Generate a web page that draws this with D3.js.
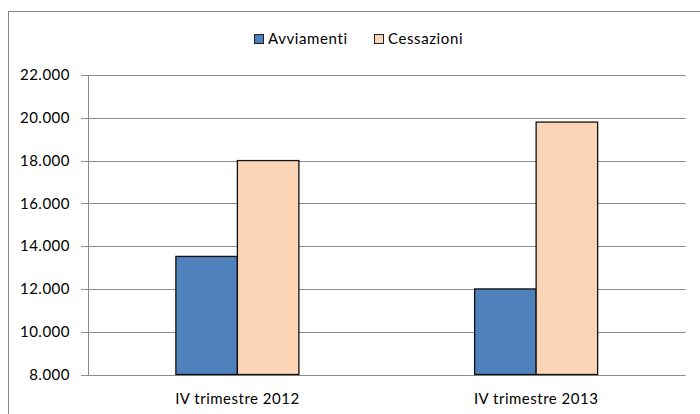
<!DOCTYPE html>
<html>
<head>
<meta charset="utf-8">
<script src="https://cdn.jsdelivr.net/npm/d3@7"></script>
<style>
  body { margin: 0; background: #fff; }
  svg { display: block; font-family: Lato, "Open Sans", sans-serif; }
</style>
</head>
<body>
<div id="chart"></div>
<script>
const categories = ["IV trimestre 2012", "IV trimestre 2013"]
const seriesNames = ["Avviamenti", "Cessazioni"]
const avviamenti = [13520, 12000]
const cessazioni = [18000, 19800]
const yTicks = [8000, 10000, 12000, 14000, 16000, 18000, 20000, 22000]
const colors = ["#4f81bd", "#fbd5b5"]

const svgWidth = 700
const svgHeight = 414
const margin = {top: 75, right: 14.5, bottom: 39.5, left: 88}
const width = svgWidth - margin.left - margin.right
const height = svgHeight - margin.top - margin.bottom

const svg = d3.select('#chart')
    .append('svg')
    .attr('width', svgWidth)
    .attr('height', svgHeight)

// outer chart frame (cut off at right and bottom)
svg.append('rect')
    .attr('x', 8.5)
    .attr('y', 11.5)
    .attr('width', 720)
    .attr('height', 440)
    .attr('fill', 'none')
    .attr('stroke', '#868686')

const chart = svg.append('g')
    .attr('transform', `translate(${margin.left},${margin.top})`)

const xScale = d3.scaleBand()
    .domain(categories)
    .range([0, width])

const inner = d3.scaleBand()
    .domain(seriesNames)
    .range([0, 123])

const yScale = d3.scaleLinear()
    .domain([8000, 22000])
    .range([height, 0])

const fmt = d => d3.format(',')(d).replace(/,/g, '.')

// gridlines
chart.append('g')
    .selectAll('line')
    .data(yTicks)
    .join('line')
    .attr('x1', -7)
    .attr('x2', width)
    .attr('y1', d => Math.round(yScale(d)) + 0.5)
    .attr('y2', d => Math.round(yScale(d)) + 0.5)
    .attr('stroke', '#8c8c8c')
    .attr('stroke-width', 1)

// y axis labels
let yAxis = chart.append('g')
    .call(d3.axisLeft(yScale).tickValues(yTicks).tickFormat(fmt).tickSize(0).tickPadding(18))
yAxis.select('.domain').remove()
yAxis.selectAll('text')
    .attr('font-size', 15)
    .attr('letter-spacing', 0.5)
    .attr('font-family', 'Lato, sans-serif')
    .attr('fill', '#000')

chart.append('line')
    .attr('x1', 0.5).attr('x2', 0.5)
    .attr('y1', Math.round(yScale(22000)))
    .attr('y2', Math.round(yScale(8000)) + 0.5)
    .attr('stroke', '#8c8c8c')

// bars
const rows = categories.map((c, i) => ({cat: c, values: [avviamenti[i], cessazioni[i]]}))

chart.append('g')
    .selectAll('g')
    .data(rows)
    .join('g')
    .attr('transform', d => `translate(${xScale(d.cat) + (xScale.bandwidth() - 123) / 2},0)`)
    .selectAll('rect')
    .data(d => d.values.map((v, j) => ({key: seriesNames[j], value: v})))
    .join('rect')
    .attr('x', d => inner(d.key))
    .attr('y', d => yScale(d.value))
    .attr('width', inner.bandwidth())
    .attr('height', d => yScale(8000) - yScale(d.value))
    .attr('fill', d => colors[seriesNames.indexOf(d.key)])
    .attr('stroke', '#111')
    .attr('stroke-width', 1.3)

// category labels
chart.append('g')
    .selectAll('text')
    .data(categories)
    .join('text')
    .attr('x', d => xScale(d) + xScale.bandwidth() / 2)
    .attr('y', height + 29)
    .attr('text-anchor', 'middle')
    .attr('font-size', 15)
    .attr('letter-spacing', 0.5)
    .attr('fill', '#000')
    .text(d => d)

// legend
const legendX = [254, 374]
const legend = svg.append('g')

legend.selectAll('rect')
    .data(seriesNames)
    .join('rect')
    .attr('x', (d, i) => legendX[i] + 0.5)
    .attr('y', 34.5)
    .attr('width', 9)
    .attr('height', 9)
    .attr('fill', (d, i) => colors[i])
    .attr('stroke', '#222')

legend.selectAll('text')
    .data(seriesNames)
    .join('text')
    .attr('x', (d, i) => legendX[i] + 14)
    .attr('y', 44.3)
    .attr('font-size', 15)
    .attr('letter-spacing', 0.6)
    .attr('fill', '#000')
    .text(d => d)
</script>
</body>
</html>
